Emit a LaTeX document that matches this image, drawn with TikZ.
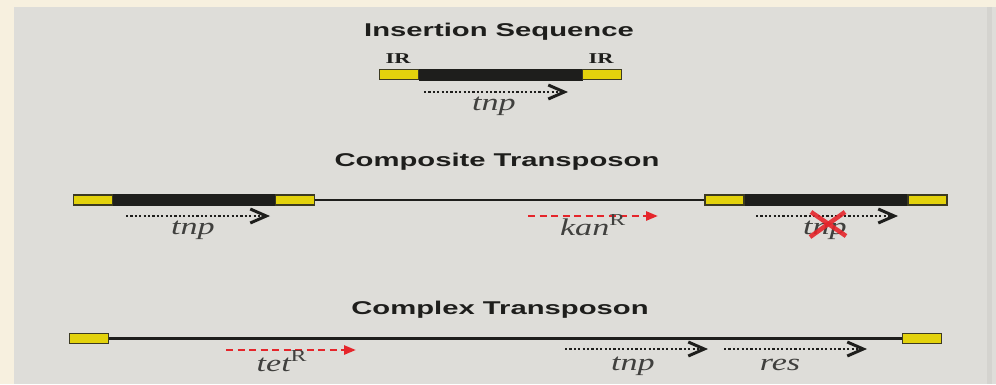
\documentclass[tikz,border=0pt]{standalone}
\usepackage{fontspec}
\setmainfont{Liberation Serif}
\newfontfamily\headfont{Liberation Sans}
\usetikzlibrary{arrows.meta}

\definecolor{paper}{HTML}{F7F0DF}
\definecolor{panel}{HTML}{DEDDD9}
\definecolor{panelrim}{HTML}{D4D3CF}
\definecolor{irgold}{HTML}{E3D20C}
\definecolor{iredge}{HTML}{3C3A22}
\definecolor{markred}{HTML}{E5252B}
\definecolor{ink}{HTML}{1E1E1C}

\tikzset{
  head/.style={font=\headfont\bfseries\fontsize{18.5}{20}\selectfont, text=ink, xscale=1.58, inner sep=0pt},
  gene/.style={font=\itshape\fontsize{24}{26}\selectfont, text=ink!85, xscale=1.42, inner sep=0pt, anchor=base},
  irlabel/.style={font=\bfseries\fontsize{15}{16}\selectfont, text=ink, xscale=1.5, inner sep=0pt, anchor=base},
  irbox/.style={draw=iredge, fill=irgold, line width=1.6pt, minimum width=39pt, minimum height=10pt, inner sep=0pt},
  corebar/.style={fill=ink, minimum height=12pt, inner sep=0pt},
  spacer/.style={draw=ink, line width=2.6pt},
  dotarrow/.style={draw=ink, line width=2.4pt, dash pattern=on 2.2pt off 2.2pt,
    -{Straight Barb[length=16pt,width=14pt,line width=3pt]}},
  redarrow/.style={draw=markred, line width=2.6pt, dash pattern=on 7pt off 4.5pt,
    -{Triangle[length=12pt,width=9pt]}},
  cross/.style={draw=markred, line width=4.5pt, opacity=0.9}
}

\begin{document}
\begin{tikzpicture}[x=1pt, y=-1pt]
  % page and panel
  \fill[paper] (0,0) rectangle (996,384);
  \fill[panel] (14,7) rectangle (996,384);
  \fill[panelrim] (987,7) rectangle (992,384);
  \useasboundingbox (0,0) rectangle (996,384);

  % ---------- Insertion Sequence ----------
  \node[head] (t1) at (499,32) {Insertion Sequence};
  \node[corebar, minimum width=164pt] (is core) at (500.5,74.5) {};
  \node[irbox] (is left) at (399,74.5) {};
  \node[irbox] (is right) at (602,74.5) {};
  \node[irlabel] (ir left) at (398,63) {IR};
  \node[irlabel] (ir right) at (601,63) {IR};
  \coordinate (is a) at (424,92);
  \coordinate (is b) at (568,92);
  \draw[dotarrow] (is a) -- (is b);
  \node[gene] (is tnp) at (494,110) {tnp};

  % ---------- Composite Transposon ----------
  \node[head] (t2) at (497,162) {Composite Transposon};
  \node[corebar, minimum width=164pt] (cl core) at (194,200) {};
  \node[irbox] (cl left) at (93,200) {};
  \node[irbox] (cl right) at (295,200) {};
  \node[corebar, minimum width=164pt] (cr core) at (826.5,200) {};
  \node[irbox] (cr left) at (724.5,200) {};
  \node[irbox] (cr right) at (927.5,200) {};
  \draw[spacer] (cl right.east) -- (cr left.west);

  \coordinate (cl a) at (126,216);
  \coordinate (cl b) at (270,216);
  \draw[dotarrow] (cl a) -- (cl b);
  \node[gene] (cl tnp) at (193,234) {tnp};

  \coordinate (kan a) at (528,216);
  \coordinate (kan b) at (658,216);
  \draw[redarrow] (kan a) -- (kan b);
  \node[gene] (kan) at (593,235) {kan\textsuperscript{\upshape R}};

  \coordinate (cr a) at (756,216);
  \coordinate (cr b) at (898,216);
  \draw[dotarrow] (cr a) -- (cr b);
  \node[gene] (cr tnp) at (825,234) {tnp};
  \coordinate (x1) at (811,212);
  \coordinate (x2) at (846,236);
  \coordinate (x3) at (845,212);
  \coordinate (x4) at (810,237);
  \draw[cross] (x1) -- (x2);
  \draw[cross] (x3) -- (x4);

  % ---------- Complex Transposon ----------
  \node[head] (t3) at (500,310) {Complex Transposon};
  \node[irbox] (cx left) at (89,338.5) {};
  \node[irbox] (cx right) at (922,338.5) {};
  \draw[spacer] (cx left.east) -- (cx right.west);

  \coordinate (tet a) at (226,350);
  \coordinate (tet b) at (356,350);
  \draw[redarrow] (tet a) -- (tet b);
  \node[gene] (tet) at (282,371) {tet\textsuperscript{\upshape R}};

  \coordinate (cx a) at (565,349);
  \coordinate (cx b) at (708,349);
  \draw[dotarrow] (cx a) -- (cx b);
  \node[gene] (cx tnp) at (633,370) {tnp};

  \coordinate (res a) at (724,349);
  \coordinate (res b) at (867,349);
  \draw[dotarrow] (res a) -- (res b);
  \node[gene] (res) at (780,370) {res};
\end{tikzpicture}
\end{document}
